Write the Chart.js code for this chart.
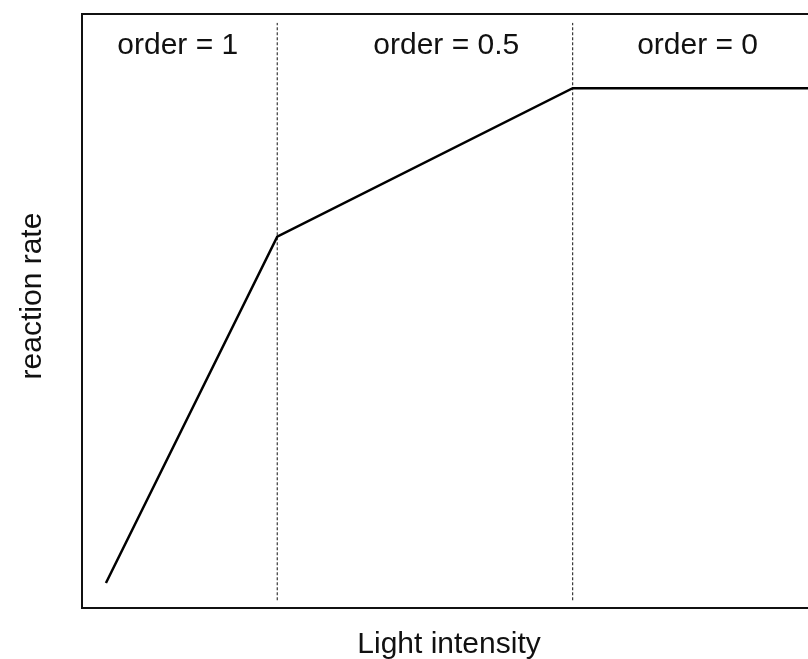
<!DOCTYPE html>
<html>
<head>
<meta charset="utf-8">
<script src="https://cdn.jsdelivr.net/npm/chart.js@4"></script>
<style>
    body { margin: 0; background: #fff; overflow: hidden; }
    #wrap { width: 808px; height: 659px; overflow: hidden; }
    #myChart { display: block; }
</style>
</head>
<body>
<div id="wrap"><canvas id="myChart" width="830" height="659"></canvas></div>
<script>
// rate curve (arbitrary units)
const intensity = [0.32, 2.61, 6.56, 10];
const rate = [0.42, 6.25, 8.75, 8.75];

// region boundaries (dashed lines)
const boundaries = [2.61, 6.56];
const boundaryLow = 0.13;
const boundaryHigh = 9.85;

const regionLabels = ['order = 1', 'order = 0.5', 'order = 0'];
const regionLabelX = [1.28, 4.87, 8.23];
const regionLabelY = 9.32;

const xTitle = 'Light intensity';
const yTitle = 'reaction rate';

const FONT = '30px "Liberation Sans", Arial, sans-serif';

const boundarySets = boundaries.map(b => ({
    data: [{ x: b, y: boundaryLow }, { x: b, y: boundaryHigh }],
    borderColor: '#111',
    borderWidth: 1,
    borderDash: [3, 2],
    pointRadius: 0,
    fill: false,
}));

const framePlugin = {
    id: 'frame',
    afterDraw(chart) {
        const { ctx, chartArea, scales } = chart;
        ctx.save();
        ctx.strokeStyle = '#111';
        ctx.lineWidth = 2;
        ctx.strokeRect(chartArea.left, chartArea.top, chartArea.right - chartArea.left, chartArea.bottom - chartArea.top);

        ctx.fillStyle = '#111';
        ctx.font = FONT;
        ctx.textAlign = 'center';
        ctx.textBaseline = 'alphabetic';
        regionLabels.forEach((t, i) => {
            ctx.fillText(t, scales.x.getPixelForValue(regionLabelX[i]), scales.y.getPixelForValue(regionLabelY));
        });

        ctx.fillText(xTitle, 449, 653);

        ctx.translate(41, 296);
        ctx.rotate(-Math.PI / 2);
        ctx.fillText(yTitle, 0, 0);
        ctx.restore();
    }
};

let ctx = document.getElementById('myChart').getContext('2d');
window.myChart = new Chart(ctx, {
    type: 'line',
    data: {
        datasets: [{
            data: intensity.map((x, i) => ({ x: x, y: rate[i] })),
            borderColor: '#000',
            borderWidth: 2.5,
            pointRadius: 0,
            fill: false,
            tension: 0,
        }, ...boundarySets]
    },
    options: {
        responsive: false,
        animation: false,
        layout: {
            padding: { left: 82, top: 14, right: 0, bottom: 51 }
        },
        scales: {
            x: { type: 'linear', min: 0, max: 10, display: false },
            y: { type: 'linear', min: 0, max: 10, display: false }
        },
        plugins: {
            legend: { display: false },
            tooltip: { enabled: false }
        }
    },
    plugins: [framePlugin]
});
</script>
</body>
</html>
